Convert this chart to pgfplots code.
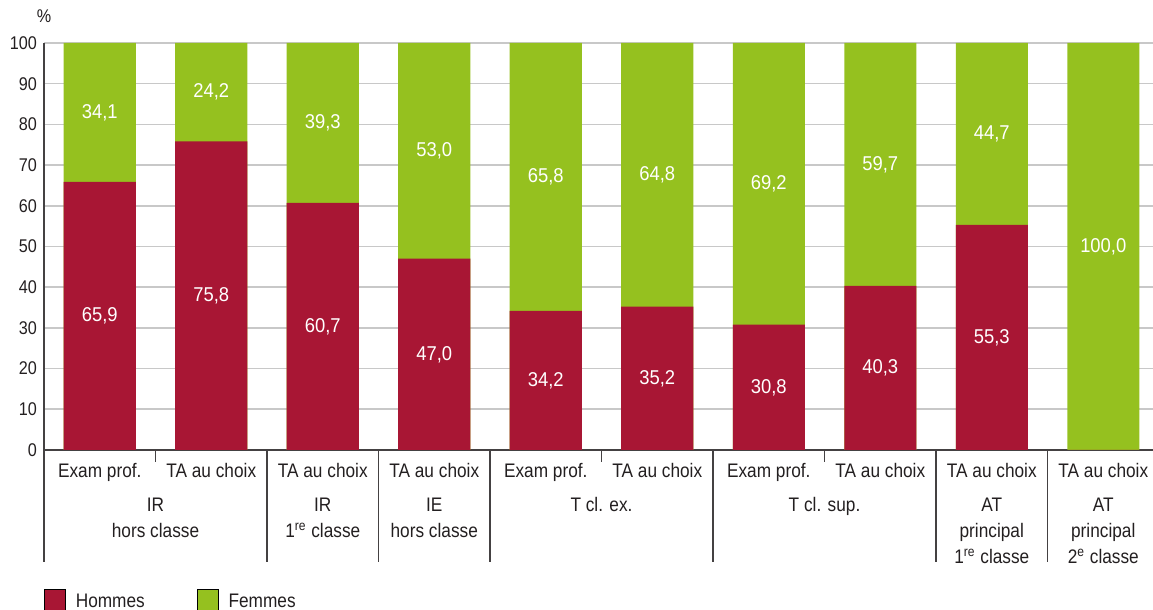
\documentclass[border=0pt]{standalone}
\usepackage{pgfplots}
\pgfplotsset{compat=1.18}
\usepackage{pgfplotstable}
\usepackage{fontspec}
\setmainfont{Liberation Sans}[FakeStretch=0.88]
\newfontfamily\numfont{Liberation Sans}[FakeStretch=0.92]

\definecolor{hommes}{RGB}{168,22,52}
\definecolor{femmes}{RGB}{149,193,31}
\definecolor{grille}{RGB}{200,200,200}
\definecolor{texte}{RGB}{35,31,32}

\newcommand\lbl{\fontsize{9.8pt}{13pt}\selectfont}
\newcommand\tck{\fontsize{9.2pt}{12pt}\selectfont}
\newcommand\val{\numfont\fontsize{10pt}{12pt}\selectfont}

% part des hommes (h) et des femmes (f), en %
\pgfplotstableread{
x h f
0 65.9 34.1
1 75.8 24.2
2 60.7 39.3
3 47.0 53.0
4 34.2 65.8
5 35.2 64.8
6 30.8 69.2
7 40.3 59.7
8 55.3 44.7
9 0.0 100.0
}\parts

\newcommand\grp[3]{\node[font=\lbl, text=texte, anchor=base, inner sep=0pt] at (axis cs:#1,0) [yshift=-#2] {#3};}

\begin{document}
\begin{tikzpicture}
\begin{axis}[
    at={(22pt,80pt)}, anchor=south west,
    scale only axis, width=554.5pt, height=203.5pt,
    xmin=-0.5, xmax=9.446, ymin=0, ymax=100,
    axis x line*=bottom, axis y line*=left,
    axis line style={texte!85, line width=0.8pt},
    ytick={0,10,...,100},
    ymajorgrids, grid style={grille, line width=0.8pt},
    major tick length=0pt,
    xtick={0,...,9},
    xticklabels={Exam prof., TA au choix, TA au choix, TA au choix, Exam prof.,
                 TA au choix, Exam prof., TA au choix, TA au choix, TA au choix},
    yticklabel style={font=\tck, text=texte},
    xticklabel style={font=\lbl, text=texte, anchor=base, yshift=-14pt},
    /pgf/number format/assume math mode=true,
    ylabel={\%},
    ylabel style={rotate=-90, at={(rel axis cs:0,1)}, anchor=base, yshift=10pt, font=\tck, text=texte},
    legend style={at={(0,-0.342)}, anchor=north west, draw=none, fill=none,
                  inner sep=0pt, outer sep=0pt,
                  legend columns=-1, font=\lbl, text=texte,
                  /tikz/every odd column/.append style={column sep=3pt},
                  /tikz/every even column/.append style={column sep=24pt}},
    legend image code/.code={\fill[#1] (0pt,-4pt) rectangle (10.5pt,6.5pt);},
    every node near coord/.append style={anchor=center, text=white, font=\val},
    clip=false,
]
    % Femmes (sommet a 100) puis Hommes par-dessus
    \addplot[ybar, bar width=0.646, bar shift=0pt, fill=femmes, draw=none, forget plot]
        table[x=x, y expr=\thisrow{h}+\thisrow{f}] {\parts};
    \addplot[ybar, bar width=0.646, bar shift=0pt, fill=hommes, draw=none, forget plot]
        table[x=x, y=h] {\parts};

    % valeurs au milieu des segments
    \addplot[draw=none, mark=none, forget plot, restrict x to domain=0:8,
        point meta=explicit,
        nodes near coords={\pgfmathprintnumber[use comma, fixed, fixed zerofill, precision=1, assume math mode=true]{\pgfplotspointmeta}}]
        table[x=x, y expr=\thisrow{h}/2, meta=h] {\parts};
    \addplot[draw=none, mark=none, forget plot,
        point meta=explicit,
        nodes near coords={\pgfmathprintnumber[use comma, fixed, fixed zerofill, precision=1, assume math mode=true]{\pgfplotspointmeta}}]
        table[x=x, y expr=\thisrow{h}+\thisrow{f}/2, meta=f] {\parts};

    \addlegendimage{fill=hommes}\addlegendentry{Hommes}
    \addlegendimage{fill=femmes}\addlegendentry{Femmes}

    % separateurs de groupes
    \pgfplotsinvokeforeach{-0.5,1.5,2.5,3.5,5.5,7.5,8.5}
        {\draw[texte!85, line width=0.8pt] (axis cs:#1,0) -- ++(0pt,-56pt);}
    \pgfplotsinvokeforeach{0.5,4.5,6.5}
        {\draw[texte!85, line width=0.8pt] (axis cs:#1,0) -- ++(0pt,-6pt);}

    \grp{0.5}{31pt}{IR}
    \grp{0.5}{44pt}{hors classe}
    \grp{2}{31pt}{IR}
    \grp{2}{44pt}{1\textsuperscript{re} classe}
    \grp{3}{31pt}{IE}
    \grp{3}{44pt}{hors classe}
    \grp{4.5}{31pt}{T cl. ex.}
    \grp{6.5}{31pt}{T cl. sup.}
    \grp{8}{31pt}{AT}
    \grp{8}{44pt}{principal}
    \grp{8}{57pt}{1\textsuperscript{re} classe}
    \grp{9}{31pt}{AT}
    \grp{9}{44pt}{principal}
    \grp{9}{57pt}{2\textsuperscript{e} classe}
\end{axis}
\pgfresetboundingbox
\path[use as bounding box] (0pt,0pt) rectangle (576.5pt,305pt);
\end{tikzpicture}
\end{document}
